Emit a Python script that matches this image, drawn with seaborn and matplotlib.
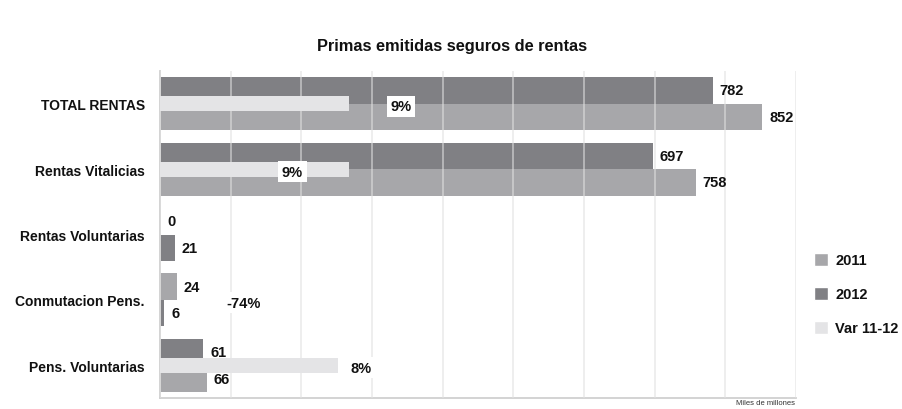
import matplotlib
matplotlib.use("Agg")
import matplotlib.pyplot as plt
from matplotlib.patches import Patch
import numpy as np
import pandas as pd
import seaborn as sns

sns.set_style("white")
plt.rcParams["font.family"] = ["Liberation Sans", "DejaVu Sans"]

# data (miles de millones)
categorias = ["TOTAL RENTAS", "Rentas Vitalicias", "Rentas Voluntarias", "Conmutacion Pens.", "Pens. Voluntarias"]
anios = ["2011", "2012"]
primas_2011 = [782, 697, 0, 24, 61]
primas_2012 = [852, 758, 21, 6, 66]
var_11_12 = [8.9, 8.9, np.nan, -74.0, 8.4]

# colours as they appear per bar in the picture
DARK = "#808084"
MID = "#a7a7aa"
LIGHT = "#e4e4e6"
colores_2011 = [DARK, DARK, MID, MID, DARK]
colores_2012 = [MID, MID, DARK, DARK, MID]

# where the var labels sit (percent axis units)
var_label_x = [11.35, 6.25, np.nan, 3.95, 9.5]

df = pd.DataFrame({
    "categoria": categorias * 2,
    "anio": [anios[0]] * len(categorias) + [anios[1]] * len(categorias),
    "primas": primas_2011 + primas_2012,
})
df_var = pd.DataFrame({"categoria": categorias, "var": var_11_12})

fig = plt.figure(figsize=(9.02, 4.10), dpi=100)
ax = fig.add_axes([160 / 902, 11 / 410, 636 / 902, 327 / 410])

sns.barplot(data=df, y="categoria", x="primas", hue="anio", order=categorias, hue_order=anios,
            orient="h", width=0.81, saturation=1, palette=[MID, DARK], legend=False, ax=ax)

for container, colores, valores in zip(ax.containers, [colores_2011, colores_2012], [primas_2011, primas_2012]):
    for bar, c in zip(container, colores):
        bar.set_facecolor(c)
        bar.set_edgecolor("none")
    ax.bar_label(container, labels=[str(v) for v in valores], padding=5,
                 fontsize=10.5, fontweight="bold", color="#111111")

ax.set_xlim(0, 900)
ax.set_xticks(np.arange(0, 901, 100))
ax.set_xticklabels([])
ax.tick_params(axis="x", length=0)
ax.tick_params(axis="y", length=0, pad=11)
for lab in ax.get_yticklabels():
    lab.set_fontweight("bold")
    lab.set_fontsize(10)
    lab.set_color("#111111")
ax.set_xlabel("")
ax.set_ylabel("")
ax.set_axisbelow(False)
ax.xaxis.grid(True, color="#e0e0e0", linewidth=1.3, alpha=0.6)
ax.yaxis.grid(False)
for side in ["top", "right"]:
    ax.spines[side].set_visible(False)
for side in ["left", "bottom"]:
    ax.spines[side].set_color("#d0d0d0")
    ax.spines[side].set_linewidth(1.3)

# variation on a secondary axis
ax2 = ax.twiny()
sns.barplot(data=df_var, y="categoria", x="var", order=categorias, orient="h", width=0.23,
            color=LIGHT, saturation=1, ax=ax2)
for bar in ax2.patches:
    bar.set_edgecolor("none")
ax2.set_xlim(0, 30)
ax2.set_xticks([])
ax2.set_xlabel("")
ax2.set_ylabel("")
for side in ax2.spines:
    ax2.spines[side].set_visible(False)

for i, (v, lx) in enumerate(zip(var_11_12, var_label_x)):
    if np.isnan(v):
        continue
    ax2.text(lx, i + 0.04, f"{v:.0f}%", ha="center", va="center", fontsize=10.5, fontweight="bold",
             color="#111111", bbox=dict(facecolor="white", edgecolor="none", pad=2.5))

fig.text(452 / 902, 1 - 46 / 410, "Primas emitidas seguros de rentas", ha="center", va="center",
         fontsize=11.8, fontweight="bold", color="#111111")
fig.text(795 / 902, 1 - 404 / 410, "Miles de millones", ha="right", va="center", fontsize=5.5,
         color="#333333")

handles = [Patch(facecolor=MID, label="2011"), Patch(facecolor=DARK, label="2012"),
           Patch(facecolor=LIGHT, label="Var 11-12")]
leg = fig.legend(handles=handles, loc="upper left", bbox_to_anchor=(801 / 902, 1 - 241 / 410),
                 frameon=False, handlelength=0.95, handleheight=0.95, handletextpad=0.5,
                 labelspacing=1.35, prop={"weight": "bold", "size": 10.5})
for t in leg.get_texts():
    t.set_color("#111111")

fig.savefig("out.png", dpi=100)
